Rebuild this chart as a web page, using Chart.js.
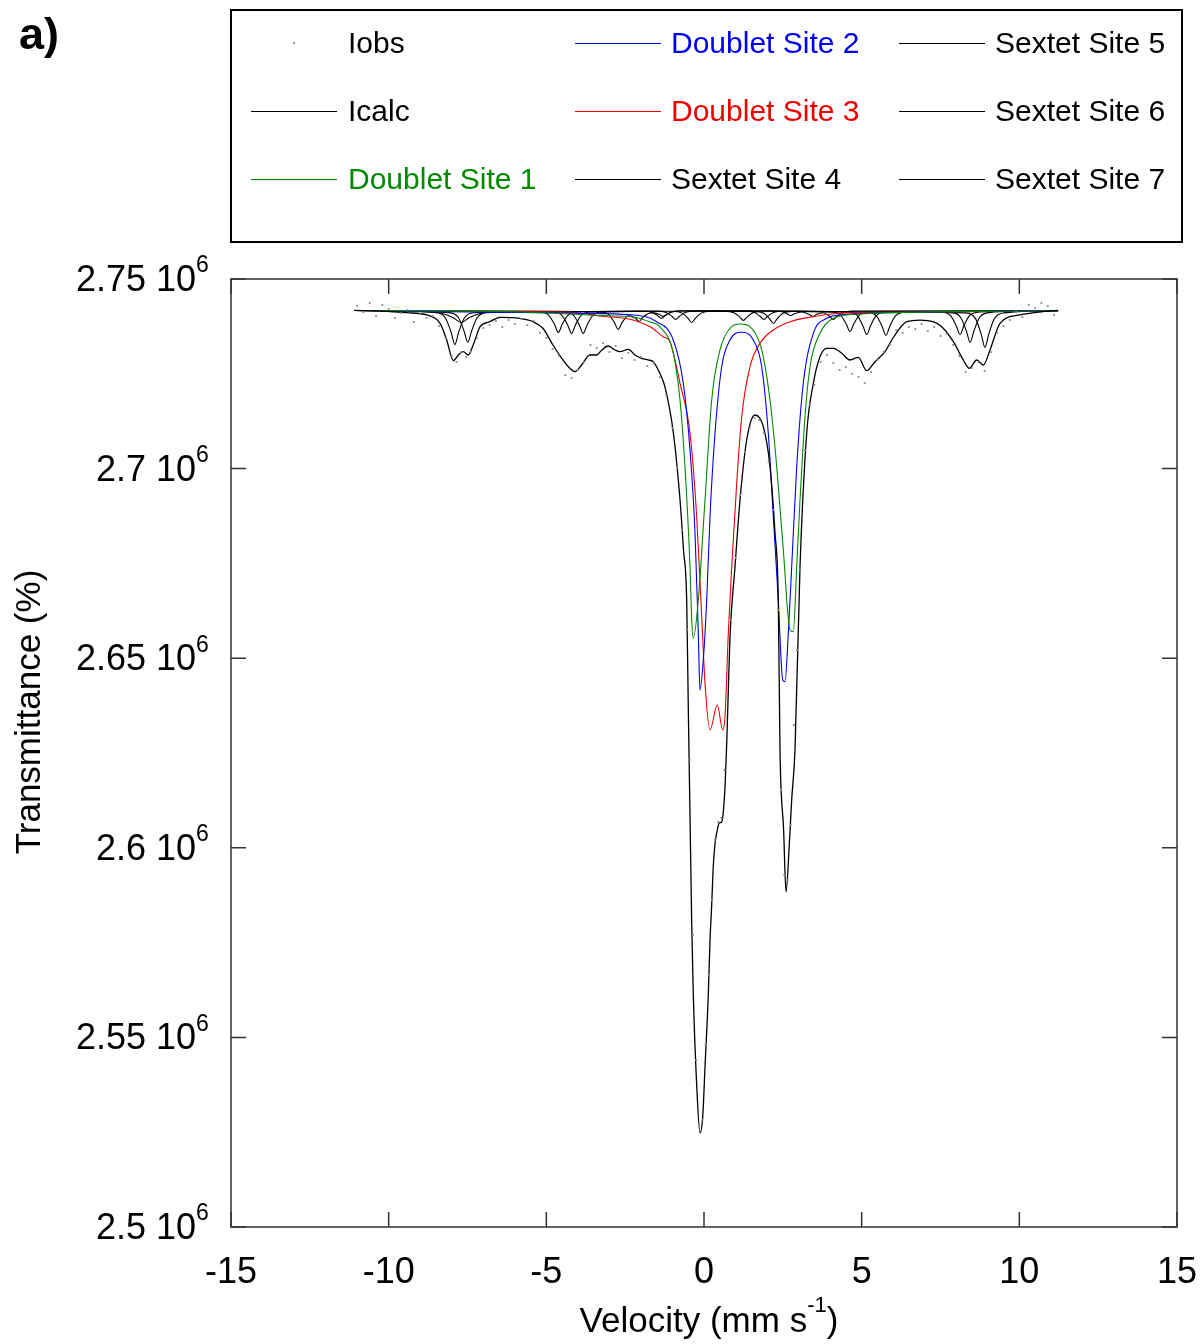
<!DOCTYPE html>
<html>
<head>
<meta charset="utf-8">
<script src="https://cdn.jsdelivr.net/npm/chart.js@4.4.0/dist/chart.umd.min.js"></script>
<style>
  body { margin: 0; background: #fff; font-family: "Liberation Sans", Arial, sans-serif; }
  #wrap { position: relative; width: 1202px; height: 1344px; }
  #tag { position: absolute; left: 19px; top: 8px; font-weight: bold; font-size: 45px; }
  #legend { position: absolute; left: 230px; top: 9px; width: 949px; height: 230px; border: 2px solid #000; }
  .swatch { position: absolute; height: 1px; width: 86px; }
  .dot { position: absolute; width: 2px; height: 2px; background: #999; }
  .name { position: absolute; font-size: 30px; line-height: 34px; white-space: nowrap; }
  canvas { position: absolute; left: 0; top: 0; }
</style>
</head>
<body>
<div id="wrap">
  <canvas id="spectrum" width="1202" height="1344"></canvas>
  <div id="tag">a)</div>
  <div id="legend"></div>
</div>
<script>
// axis ticks
const xTicks = [-15, -10, -5, 0, 5, 10, 15];
const xTickLabels = ['-15', '-10', '-5', '0', '5', '10', '15'];
const yTicks = [2500000, 2550000, 2600000, 2650000, 2700000, 2750000];
const yTickLabels = ['2.5', '2.55', '2.6', '2.65', '2.7', '2.75'];
const yExponent = '6';

const seriesNames = ['Iobs', 'Icalc', 'Doublet Site 1', 'Doublet Site 2', 'Doublet Site 3',
  'Sextet Site 4', 'Sextet Site 5', 'Sextet Site 6', 'Sextet Site 7'];
const seriesColors = ['#888888', '#000000', '#008a00', '#0000ee', '#ee0000',
  '#000000', '#000000', '#000000', '#000000'];

// observed counts
const obsVel = [-11.0, -10.8, -10.6, -10.4, -10.2, -10.0, -9.8, -9.6, -9.4, -9.2, -9.0, -8.8, -8.6, -8.4, -8.2, -8.0,
  -7.85, -7.7, -7.55, -7.4, -7.2, -7.0, -6.8, -6.6, -6.4, -6.2, -6.0, -5.8, -5.6, -5.4, -5.2, -5.0, -4.8, -4.6,
  -4.4, -4.2, -4.0, -3.8, -3.6, -3.4, -3.2, -3.0, -2.8, -2.6, -2.4, -2.2, -2.0, -1.8, -1.6, -1.4, -1.2, -1.0,
  -0.85, -0.7, -0.55, -0.45, -0.35, -0.25, -0.15, -0.05, 0.05, 0.15, 0.25, 0.35, 0.45, 0.55, 0.65, 0.75, 0.85,
  1.0, 1.15, 1.3, 1.45, 1.6, 1.75, 1.9, 2.05, 2.2, 2.35, 2.45, 2.55, 2.65, 2.75, 2.85, 2.95, 3.05, 3.2, 3.35,
  3.5, 3.7, 3.9, 4.1, 4.3, 4.5, 4.7, 4.9, 5.1, 5.3, 5.5, 5.7, 5.9, 6.1, 6.3, 6.5, 6.7, 6.9, 7.1, 7.3, 7.5, 7.7,
  7.9, 8.1, 8.3, 8.5, 8.7, 8.9, 9.1, 9.3, 9.5, 9.7, 9.9, 10.1, 10.3, 10.5, 10.7, 10.9, 11.1];
const obsVal = [2742880, 2741300, 2743670, 2740240, 2743140, 2742090, 2739720, 2741040, 2741830, 2738660, 2740770,
  2739720, 2740240, 2737610, 2734440, 2729690, 2728110, 2730750, 2729430, 2730750, 2734440, 2737080, 2737870,
  2738920, 2737340, 2739190, 2738130, 2739450, 2737870, 2738920, 2735760, 2734440, 2731540, 2729690, 2724680,
  2723890, 2726000, 2728110, 2732600, 2731800, 2733120, 2730750, 2732330, 2729160, 2730480, 2728640, 2729430,
  2727060, 2727850, 2724150, 2719410, 2710710, 2700170, 2683820, 2657460, 2623180, 2577030, 2544070, 2526910,
  2528240, 2548020, 2566480, 2586260, 2602080, 2606830, 2607880, 2620540, 2648230, 2660090, 2676440, 2693050,
  2704380, 2710710, 2713350, 2712820, 2709390, 2701750, 2689090, 2662730, 2615270, 2592850, 2591530, 2606040,
  2632400, 2652190, 2673270, 2704910, 2716780, 2722040, 2728110, 2729960, 2727850, 2726000, 2726790, 2724950,
  2724150, 2722570, 2725470, 2728640, 2730750, 2732600, 2736550, 2735760, 2737340, 2736810, 2738130, 2736290,
  2737340, 2734970, 2735490, 2732600, 2729690, 2725470, 2726530, 2728110, 2725740, 2730750, 2735760, 2737610,
  2739190, 2741300, 2739980, 2743140, 2742350, 2743670, 2742880, 2740510];

// calculated envelope
const calcVel = [-11.1, -10.3, -9.43, -8.79, -8.37, -8.16, -7.95, -7.79, -7.63, -7.48, -7.32, -7.10, -6.79, -6.47,
  -5.84, -5.42, -5.11, -4.79, -4.51, -4.30, -4.09, -3.88, -3.62, -3.40, -3.24, -3.04, -2.82, -2.66, -2.40, -2.19,
  -1.98, -1.77, -1.61, -1.40, -1.24, -0.97, -0.76, -0.65, -0.549, -0.498, -0.444, -0.390, -0.339, -0.232, -0.127,
  -0.041, 0.032, 0.136, 0.190, 0.244, 0.295, 0.349, 0.403, 0.485, 0.561, 0.612, 0.666, 0.720, 0.771, 0.825,
  0.983, 1.142, 1.354, 1.618, 1.881, 2.093, 2.252, 2.356, 2.410, 2.525, 2.601, 2.70, 2.78, 2.886, 3.045, 3.257,
  3.467, 3.679, 3.892, 4.10, 4.367, 4.630, 4.894, 5.160, 5.423, 5.741, 5.994, 6.429, 6.851, 7.263, 7.539, 7.907,
  8.224, 8.414, 8.649, 8.858, 9.07, 9.388, 10.02, 10.66, 11.23];
const calcVal = [2741700, 2741600, 2741110, 2740510, 2738320, 2733920, 2728460, 2729960, 2730830, 2729960, 2732600,
  2737420, 2738740, 2739900, 2739640, 2738740, 2737000, 2732600, 2729090, 2726870, 2725560, 2727320, 2729960,
  2729960, 2731280, 2732330, 2731280, 2730830, 2731460, 2729960, 2729090, 2728640, 2728190, 2725130, 2721600,
  2709310, 2691720, 2678540, 2665350, 2636870, 2608660, 2580180, 2561190, 2537460, 2524800, 2529020, 2542200,
  2561190, 2575430, 2584920, 2595210, 2601010, 2603910, 2606550, 2606810, 2609450, 2616040, 2627380, 2641620,
  2655860, 2674130, 2691720, 2707540, 2714140, 2711050, 2700500, 2683020, 2665350, 2625800, 2604700, 2588350,
  2600000, 2612600, 2625800, 2674130, 2709310, 2722500, 2729510, 2731730, 2731730, 2730410, 2728640, 2729350,
  2725820, 2728190, 2730830, 2734440, 2738740, 2739180, 2738740, 2737420, 2733470, 2728640, 2726450, 2728640,
  2727320, 2731280, 2738320, 2740510, 2741300, 2741700];

// doublets
const d1Vel = [-11.1, -6.47, -4.57, -3.30, -2.25, -1.71, -1.40, -0.974, -0.761, -0.603, -0.444, -0.390, -0.339,
  -0.181, 0.032, 0.244, 0.507, 0.825, 1.142, 1.513, 1.830, 2.093, 2.306, 2.515, 2.728, 2.832, 2.940, 3.045, 3.203,
  3.362, 3.679, 4.10, 4.948, 6.216, 9.39, 11.23];
const d1Val = [2741700, 2741430, 2740900, 2740370, 2739980, 2738660, 2737420, 2730410, 2718090, 2700500, 2674130,
  2660080, 2655250, 2665350, 2691720, 2718090, 2731280, 2737000, 2738130, 2737000, 2731280, 2718090, 2700500,
  2678540, 2657440, 2656990, 2674130, 2691720, 2713690, 2726870, 2735680, 2739640, 2740770, 2741170, 2741510,
  2741600];

const d2Vel = [-11.1, -4.57, -2.25, -1.50, -0.974, -0.657, -0.444, -0.285, -0.181, -0.127, -0.022, 0.086, 0.190,
  0.349, 0.561, 0.825, 1.196, 1.564, 1.830, 2.039, 2.198, 2.356, 2.496, 2.569, 2.674, 2.781, 2.940, 3.149, 3.467,
  3.892, 4.313, 6.216, 11.23];
const d2Val = [2741700, 2741040, 2740510, 2738740, 2733910, 2722500, 2704910, 2683020, 2656650, 2641620, 2649530,
  2665350, 2687320, 2709310, 2726870, 2733910, 2735940, 2733910, 2726870, 2709310, 2687320, 2665350, 2644260,
  2643810, 2656650, 2674130, 2700500, 2722500, 2735680, 2739640, 2740510, 2741170, 2741600];

const d3Vel = [-11.1, -6.47, -4.15, -3.30, -2.25, -1.71, -1.29, -1.078, -0.761, -0.444, -0.232, -0.073, 0.032,
  0.190, 0.422, 0.593, 0.666, 0.771, 0.879, 1.037, 1.196, 1.459, 1.776, 2.198, 2.728, 3.467, 4.313, 6.216, 11.23];
const d3Val = [2741700, 2741430, 2741170, 2740250, 2739180, 2737420, 2734790, 2733470, 2722500, 2709310, 2687320,
  2660950, 2643380, 2631070, 2637660, 2631070, 2634580, 2656570, 2674130, 2696130, 2713690, 2726870, 2733040,
  2736550, 2738740, 2740060, 2740950, 2741220, 2741600];

// sextets
const s4Vel = [-11.1, -8.5, -8.2, -8.02, -7.90, -7.78, -7.6, -7.3, -5.22, -4.92, -4.74, -4.62, -4.50, -4.32, -4.02,
  -1.95, -1.65, -1.47, -1.35, -1.23, -1.05, -0.75, 0.65, 0.95, 1.13, 1.25, 1.37, 1.55, 1.85, 4.03, 4.33, 4.51,
  4.63, 4.75, 4.93, 5.23, 7.52, 7.82, 8.00, 8.12, 8.24, 8.42, 8.72, 11.2];
const s4Val = [2741700, 2741110, 2739730, 2735960, 2732730, 2735960, 2739730, 2741110, 2741320, 2740420, 2737990,
  2735900, 2737990, 2740420, 2741320, 2741560, 2741240, 2740350, 2739590, 2740350, 2741240, 2741560, 2741530,
  2741120, 2740010, 2739060, 2740010, 2741120, 2741530, 2741330, 2740480, 2738160, 2736160, 2738160, 2740480,
  2741330, 2741280, 2740310, 2737650, 2735370, 2737650, 2740310, 2741280, 2741700];

const s5Vel = [-11.1, -8.09, -7.79, -7.61, -7.49, -7.37, -7.19, -6.89, -4.80, -4.50, -4.32, -4.20, -4.08, -3.90,
  -3.60, -1.50, -1.20, -1.02, -0.90, -0.78, -0.60, -0.30, 1.30, 1.60, 1.78, 1.90, 2.02, 2.20, 2.50, 4.56, 4.86,
  5.04, 5.16, 5.28, 5.46, 5.76, 7.84, 8.14, 8.32, 8.44, 8.56, 8.74, 9.04, 11.2];
const s5Val = [2741700, 2741140, 2739840, 2736300, 2733260, 2736300, 2739840, 2741140, 2741300, 2740370, 2737820,
  2735640, 2737820, 2740370, 2741300, 2741540, 2741180, 2740180, 2739330, 2740180, 2741180, 2741540, 2741540,
  2741180, 2740180, 2739330, 2740180, 2741180, 2741540, 2741280, 2740310, 2737650, 2735370, 2737650, 2740310,
  2741280, 2741140, 2739840, 2736300, 2733260, 2736300, 2739840, 2741140, 2741700];

const s6Vel = [-11.1, -8.7, -8.3, -7.95, -7.70, -7.45, -7.1, -6.7, -4.43, -4.13, -3.95, -3.83, -3.71, -3.53, -3.23,
  -0.99, -0.69, -0.51, -0.39, -0.27, -0.09, 0.21, 1.60, 1.90, 2.08, 2.20, 2.32, 2.50, 2.80, 5.17, 5.47, 5.65,
  5.77, 5.89, 6.07, 6.37, 8.31, 8.61, 8.79, 8.91, 9.03, 9.21, 9.51, 11.2];
const s6Val = [2741700, 2741380, 2740910, 2739800, 2738540, 2739800, 2740910, 2741380, 2741300, 2740370, 2737820,
  2735640, 2737820, 2740370, 2741300, 2741490, 2741000, 2739680, 2738540, 2739680, 2741000, 2741490, 2741470,
  2740950, 2739510, 2738270, 2739510, 2740950, 2741470, 2741270, 2740250, 2737480, 2735110, 2737480, 2740250,
  2741270, 2741060, 2739550, 2735460, 2731940, 2735460, 2739550, 2741060, 2741700];

const s7Vel = [-11.1, -3.32, -3.02, -2.84, -2.72, -2.60, -2.39, -2.18, -2.06, -1.94, -1.68, -1.42, -1.30, -1.18,
  -1.00, -0.70, 2.15, 2.45, 2.63, 2.75, 2.87, 3.10, 3.33, 3.45, 3.57, 3.78, 3.98, 4.10, 4.22, 4.40, 4.70, 11.2];
const s7Val = [2741700, 2741370, 2740600, 2738490, 2736690, 2738490, 2740300, 2739700, 2738800, 2739900, 2741070,
  2740690, 2740120, 2740690, 2741350, 2741600, 2741600, 2741410, 2740860, 2740380, 2740860, 2741300, 2740690,
  2740120, 2740690, 2741100, 2740180, 2739330, 2740180, 2741180, 2741540, 2741700];

const seriesData = [[obsVel, obsVal], [calcVel, calcVal], [d1Vel, d1Val], [d2Vel, d2Val], [d3Vel, d3Val],
  [s4Vel, s4Val], [s5Vel, s5Val], [s6Vel, s6Val], [s7Vel, s7Val]];

const FONT = '"Liberation Sans", Arial, sans-serif';

function toPoints(vel, val) {
  return vel.map((v, i) => ({ x: v, y: val[i] }));
}

const datasets = seriesData.map((d, i) => {
  const ds = {
    label: seriesNames[i],
    data: toPoints(d[0], d[1]),
    borderColor: seriesColors[i],
    backgroundColor: seriesColors[i],
    borderWidth: i === 1 ? 1.3 : 1.1,
    pointRadius: 0,
    cubicInterpolationMode: 'monotone',
    fill: false
  };
  if (i === 0) {
    ds.showLine = false;
    ds.pointRadius = 1.1;
    ds.pointBorderWidth = 0;
    ds.pointBackgroundColor = '#8a8a8a';
  }
  return ds;
});

// legend box, three columns filled top to bottom
const legend = document.getElementById('legend');
const colLine = [19, 343, 667];
const colText = [116, 439, 763];
const rowMid = [32, 100, 168];
seriesNames.forEach((name, i) => {
  const col = Math.floor(i / 3), row = i % 3;
  if (i === 0) {
    const dot = document.createElement('div');
    dot.className = 'dot';
    dot.style.left = (colLine[col] + 42) + 'px';
    dot.style.top = (rowMid[row] - 1) + 'px';
    legend.appendChild(dot);
  } else {
    const sw = document.createElement('div');
    sw.className = 'swatch';
    sw.style.left = colLine[col] + 'px';
    sw.style.top = rowMid[row] + 'px';
    sw.style.background = seriesColors[i];
    legend.appendChild(sw);
  }
  const t = document.createElement('div');
  t.className = 'name';
  t.textContent = name;
  t.style.left = colText[col] + 'px';
  t.style.top = (rowMid[row] - 17) + 'px';
  t.style.color = i === 0 ? '#000' : seriesColors[i];
  legend.appendChild(t);
});

const frame = {
  id: 'frame',
  afterDraw(chart) {
    const { ctx, chartArea: a, scales: { x, y } } = chart;
    ctx.save();
    ctx.strokeStyle = '#333';
    ctx.lineWidth = 1.5;
    ctx.strokeRect(a.left, a.top, a.right - a.left, a.bottom - a.top);
    ctx.beginPath();
    xTicks.forEach(v => {
      const px = x.getPixelForValue(v);
      ctx.moveTo(px, a.bottom); ctx.lineTo(px, a.bottom - 15);
      ctx.moveTo(px, a.top); ctx.lineTo(px, a.top + 15);
    });
    yTicks.forEach(v => {
      const py = y.getPixelForValue(v);
      ctx.moveTo(a.left, py); ctx.lineTo(a.left + 15, py);
      ctx.moveTo(a.right, py); ctx.lineTo(a.right - 15, py);
    });
    ctx.stroke();

    ctx.fillStyle = '#000';
    ctx.textBaseline = 'middle';
    ctx.font = '36px ' + FONT;
    ctx.textAlign = 'center';
    xTicks.forEach((v, i) => ctx.fillText(xTickLabels[i], x.getPixelForValue(v), a.bottom + 46));

    yTicks.forEach((v, i) => {
      const py = y.getPixelForValue(v);
      ctx.font = '36px ' + FONT;
      ctx.textAlign = 'right';
      ctx.fillText(yTickLabels[i] + ' 10', 196, py + 2);
      ctx.font = '23px ' + FONT;
      ctx.textAlign = 'left';
      ctx.fillText(yExponent, 196, py - 13);
    });

    // x title with superscript
    ctx.font = '35px ' + FONT;
    const partA = 'Velocity (mm s', partC = ')';
    const supFont = '22px ' + FONT;
    const wA = ctx.measureText(partA).width, wC = ctx.measureText(partC).width;
    ctx.font = supFont;
    const wB = ctx.measureText('-1').width;
    let sx = 709 - (wA + wB + wC) / 2;
    ctx.textAlign = 'left';
    ctx.font = '35px ' + FONT;
    ctx.fillText(partA, sx, 1322);
    ctx.font = supFont;
    ctx.fillText('-1', sx + wA, 1306);
    ctx.font = '35px ' + FONT;
    ctx.fillText(partC, sx + wA + wB, 1322);

    // y title
    ctx.translate(30, 712);
    ctx.rotate(-Math.PI / 2);
    ctx.textAlign = 'center';
    ctx.font = '35px ' + FONT;
    ctx.fillText('Transmittance (%)', 0, 0);
    ctx.restore();
  }
};

new Chart(document.getElementById('spectrum'), {
  type: 'line',
  data: { datasets },
  options: {
    responsive: false,
    animation: false,
    devicePixelRatio: 1,
    layout: { padding: { left: 0, top: 279, right: 25, bottom: 0 } },
    plugins: { legend: { display: false }, tooltip: { enabled: false } },
    scales: {
      x: {
        type: 'linear', min: -15, max: 15,
        ticks: { display: false, stepSize: 5 },
        grid: { display: false }, border: { display: false },
        afterFit: s => { s.height = 117; }
      },
      y: {
        min: 2500000, max: 2750000,
        ticks: { display: false, stepSize: 50000 },
        grid: { display: false }, border: { display: false },
        afterFit: s => { s.width = 231; }
      }
    }
  },
  plugins: [frame]
});
</script>
</body>
</html>
